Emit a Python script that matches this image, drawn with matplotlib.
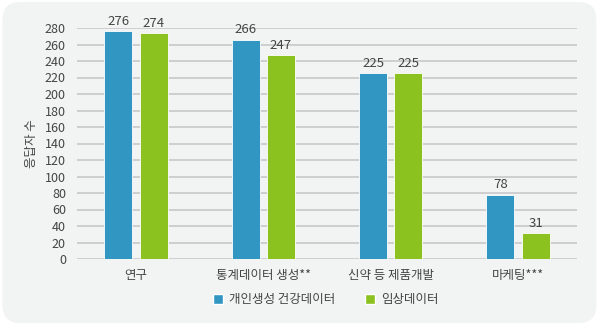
import matplotlib.pyplot as plt
import numpy as np
from matplotlib.patches import FancyBboxPatch, Patch

plt.rcParams["font.family"] = ["Noto Sans CJK KR", "DejaVu Sans"]

categories = ["연구", "통계데이터 생성**", "신약 등 제품개발", "마케팅***"]
personal = [276, 266, 225, 78]
clinical = [274, 247, 225, 31]
series_names = ["개인생성 건강데이터", "임상데이터"]

BLUE = "#3197c2"
GREEN = "#8cc21f"
TEXT = "#444444"
BG = "#f2f3f3"

fig = plt.figure(figsize=(6, 3.25), dpi=100)
fig.patch.set_facecolor("white")
fig.patches.append(
    FancyBboxPatch((0.004, 0.006), 0.99, 0.988,
                   boxstyle="round,pad=0,rounding_size=0.03",
                   transform=fig.transFigure, facecolor=BG, edgecolor="none",
                   mutation_aspect=600 / 325, zorder=-1)
)

ax = fig.add_axes([77 / 600, 1 - 259 / 325, 500 / 600, 231 / 325])
ax.set_facecolor("none")

x = np.arange(len(categories))
width = 0.22
offset = 0.138
b1 = ax.bar(x - offset, personal, width, color=BLUE, edgecolor="white", linewidth=0.6, zorder=3)
b2 = ax.bar(x + offset, clinical, width, color=GREEN, edgecolor="white", linewidth=0.6, zorder=3)

for bars, vals in ((b1, personal), (b2, clinical)):
    for bar, v in zip(bars, vals):
        ax.text(bar.get_x() + bar.get_width() / 2, v + 4, str(v),
                ha="center", va="bottom", fontsize=9.5, color=TEXT)

ax.set_xlim(-0.463, len(categories) - 0.537)
ax.set_ylim(0, 280)
ax.set_yticks(np.arange(0, 281, 20))
ax.yaxis.grid(True, color="#c8c8c8", linewidth=1.2, zorder=0)
ax.set_axisbelow(True)
for s in ax.spines.values():
    s.set_visible(False)
ax.tick_params(axis="y", length=0, pad=8, labelsize=9, labelcolor=TEXT)
ax.tick_params(axis="x", length=0, pad=7, labelsize=9, labelcolor=TEXT)
ax.set_xticks(x)
ax.set_xticklabels(categories)
ax.set_ylabel("응답자 수", fontsize=9, color=TEXT, labelpad=5)

handles = [Patch(facecolor=BLUE, edgecolor="white"), Patch(facecolor=GREEN, edgecolor="white")]
fig.legend(handles, series_names, loc="center", bbox_to_anchor=(326 / 600, 1 - 300 / 325),
           ncol=2, frameon=False, fontsize=9, labelcolor=TEXT,
           handlelength=0.8, handleheight=0.8, handletextpad=0.5, columnspacing=2.4)

fig.savefig("out.png", dpi=100, facecolor=fig.get_facecolor())
